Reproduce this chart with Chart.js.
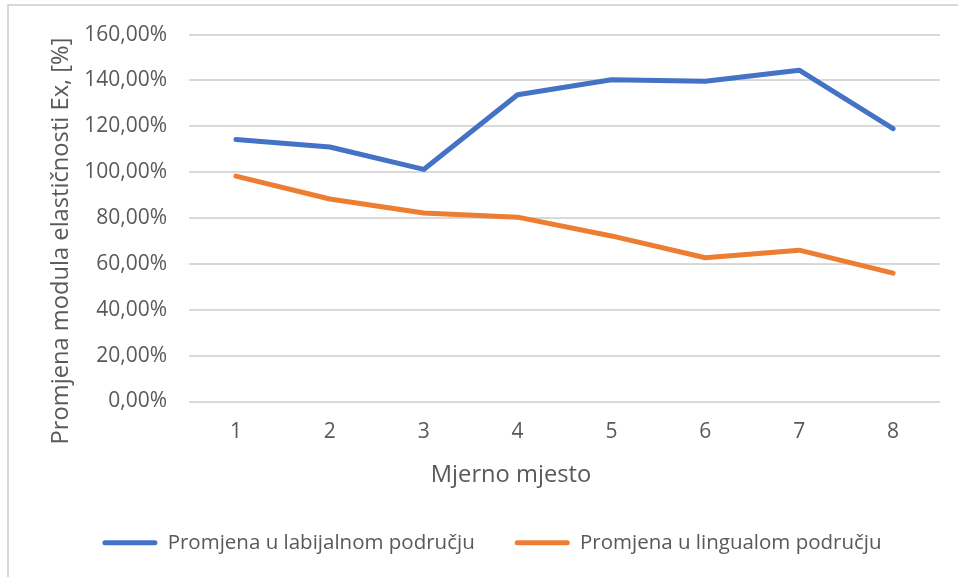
<!DOCTYPE html>
<html>
<head>
<meta charset="utf-8">
<script src="https://cdn.jsdelivr.net/npm/chart.js@4"></script>
<style>
  html, body { margin: 0; padding: 0; background: #fff; }
  #wrap { width: 958px; height: 577px; position: relative; }
</style>
</head>
<body>
<div id="wrap"><canvas id="c" width="958" height="577"></canvas></div>
<script>
// Measurement points
const categories = ['1', '2', '3', '4', '5', '6', '7', '8'];
// Change of the modulus of elasticity Ex, in percent
const labijalno = [114.3, 111.0, 101.2, 133.8, 140.3, 139.7, 144.5, 119.0];
const lingualno = [98.3, 88.3, 82.2, 80.4, 72.2, 62.7, 66.0, 56.0];
const seriesNames = ['Promjena u labijalnom području', 'Promjena u lingualom području'];
const seriesColors = ['#4472C4', '#ED7D31'];
const xTitle = 'Mjerno mjesto';
const yTitle = 'Promjena modula elastičnosti Ex, [%]';

const FONT = 'Open Sans';
const TEXT = '#595959';

// Thin frame along the top and left edge of the chart
const framePlugin = {
  id: 'frame',
  beforeDraw(chart) {
    const ctx = chart.ctx;
    ctx.save();
    ctx.strokeStyle = '#d9d9d9';
    ctx.lineWidth = 2;
    ctx.strokeRect(8, 5, 1000, 1000);
    ctx.restore();
  }
};

// Axis titles, placed relative to the whole chart box
const axisTitlePlugin = {
  id: 'axisTitles',
  afterDraw(chart) {
    const ctx = chart.ctx;
    ctx.save();
    ctx.fillStyle = TEXT;
    ctx.font = '23.7px "' + FONT + '"';
    ctx.textAlign = 'center';
    ctx.textBaseline = 'alphabetic';
    ctx.fillText(xTitle, 511, 482);
    ctx.translate(68, 241);
    ctx.rotate(-Math.PI / 2);
    ctx.fillText(yTitle, 0, 0);
    ctx.restore();
  }
};

new Chart(document.getElementById('c'), {
  type: 'line',
  data: {
    labels: categories,
    datasets: [
      { label: seriesNames[0], data: labijalno, borderColor: seriesColors[0], backgroundColor: seriesColors[0] },
      { label: seriesNames[1], data: lingualno, borderColor: seriesColors[1], backgroundColor: seriesColors[1] }
    ]
  },
  options: {
    responsive: false,
    animation: false,
    devicePixelRatio: 1,
    layout: { padding: { left: 44, right: 18, top: 32, bottom: 14 } },
    elements: {
      line: { borderWidth: 5, tension: 0, borderCapStyle: 'round', borderJoinStyle: 'round' },
      point: { radius: 0, hoverRadius: 0 }
    },
    plugins: {
      tooltip: { enabled: false },
      legend: {
        position: 'bottom',
        labels: {
          color: TEXT,
          font: { family: FONT, size: 20.5 },
          boxWidth: 55,
          boxHeight: 5,
          useBorderRadius: true,
          borderRadius: 2.5,
          padding: 40,
          generateLabels(chart) {
            return chart.data.datasets.map((ds, i) => ({
              text: ds.label,
              fillStyle: ds.borderColor,
              strokeStyle: ds.borderColor,
              lineWidth: 0,
              fontColor: TEXT,
              datasetIndex: i,
              borderRadius: 2.5
            }));
          }
        }
      }
    },
    scales: {
      x: {
        offset: true,
        grid: { display: false, drawTicks: false },
        border: { display: false },
        ticks: { color: TEXT, font: { family: FONT, size: 21 }, padding: 18 },
        title: { display: false },
        afterFit(scale) { scale.height = 91; }
      },
      y: {
        min: 0,
        max: 160,
        ticks: {
          stepSize: 20,
          color: TEXT,
          font: { family: FONT, size: 21 },
          padding: 22,
          callback: (v) => v.toFixed(2).replace('.', ',') + '%'
        },
        grid: { color: '#d9d9d9', lineWidth: 2, drawTicks: false },
        border: { display: false },
        title: { display: false },
        afterFit(scale) { scale.width = 145; }
      }
    }
  },
  plugins: [framePlugin, axisTitlePlugin]
});
</script>
</body>
</html>
